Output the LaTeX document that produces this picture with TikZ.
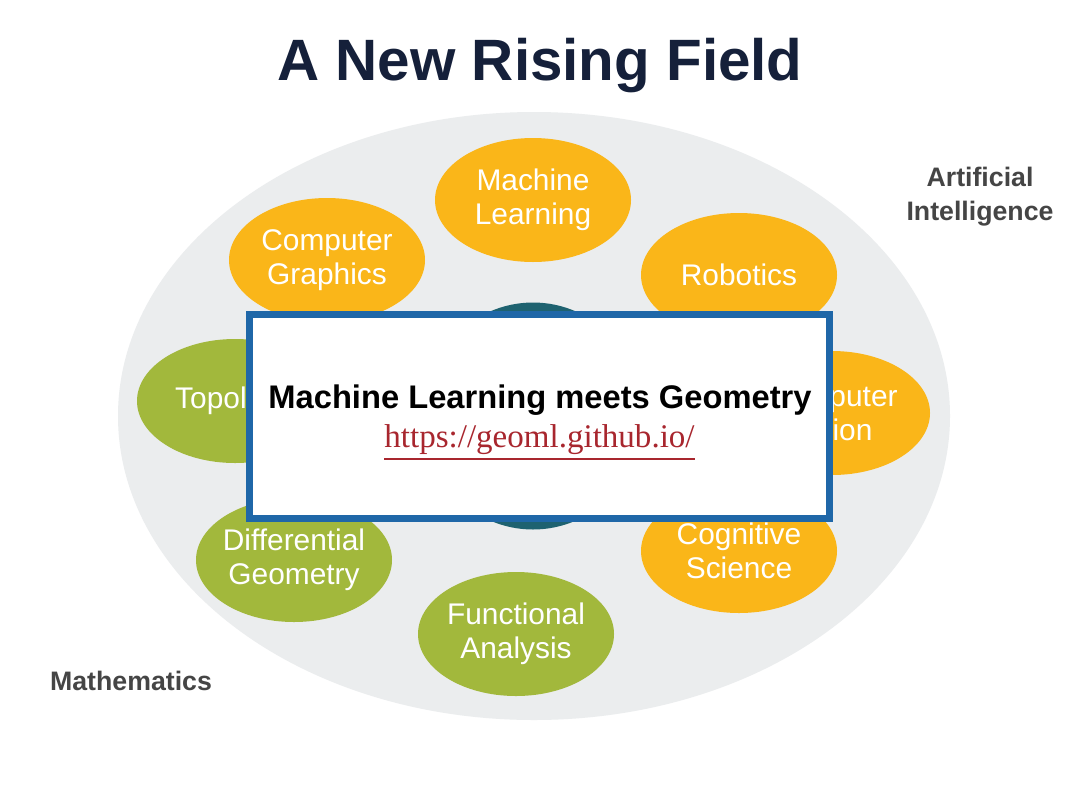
\documentclass[tikz,border=0pt]{standalone}
\usepackage{fontspec}
\setmainfont{Liberation Sans}
\newfontfamily\linkfont{Liberation Serif}
\usetikzlibrary{shapes.geometric}

\definecolor{bubbleorange}{HTML}{FAB619}
\definecolor{bubblegreen}{HTML}{A2B83C}
\definecolor{coreteal}{HTML}{1E6270}
\definecolor{fieldgray}{HTML}{EBEDEE}
\definecolor{boxblue}{HTML}{1F67A8}
\definecolor{titlenavy}{HTML}{15203A}
\definecolor{linkred}{HTML}{A8262E}
\definecolor{labelgray}{HTML}{454545}

\begin{document}
\begin{tikzpicture}[
    bubble/.style={ellipse, inner sep=-10pt, minimum width=1.96cm, minimum height=1.24cm,
        text=white, align=center, font=\fontsize{8.5}{9.7}\selectfont},
    aibubble/.style={bubble, fill=bubbleorange},
    mathbubble/.style={bubble, fill=bubblegreen},
    fieldlabel/.style={text=labelgray, align=center, font=\fontsize{7.6}{9.7}\selectfont\bfseries}]
    \useasboundingbox[fill=white] (0,0) rectangle (10.8,8.1);
    \node[anchor=base, text=titlenavy, font=\fontsize{16.6}{18}\selectfont\bfseries] (title) at (5.40,7.30) {A New Rising Field};
    \fill[fieldgray] (5.34,3.94) ellipse (4.16 and 3.04);
    % artificial intelligence
    \node[aibubble] (ml) at (5.33,6.10) {Machine\\Learning};
    \node[aibubble] (cg) at (3.27,5.50) {Computer\\Graphics};
    \node[aibubble] (rob) at (7.39,5.35) {Robotics};
    \node[aibubble] (cv) at (8.32,3.97) {Computer\\Vision};
    \node[aibubble] (cs) at (7.39,2.59) {Cognitive\\Science};
    % mathematics
    \node[mathbubble] (topo) at (2.35,4.09) {Topology};
    \node[mathbubble] (dg) at (2.94,2.50) {Differential\\Geometry};
    \node[mathbubble] (fa) at (5.16,1.76) {Functional\\Analysis};
    \node[ellipse, fill=coreteal, minimum width=2.2cm, minimum height=2.27cm] (core) at (5.33,3.94) {};
    \node[fieldlabel] (ai) at (9.80,6.13) {Artificial\\Intelligence};
    \node[fieldlabel, anchor=base] (maths) at (1.31,1.20) {Mathematics};
    % overlay box
    \node[draw=boxblue, line width=2pt, fill=white, minimum width=5.80cm, minimum height=2.04cm] (box) at (5.395,3.935) {};
    \node[anchor=base, font=\fontsize{9.3}{11}\selectfont\bfseries] (meets) at (5.40,4.02) {Machine Learning meets Geometry};
    \node[anchor=base, text=linkred, font=\fontsize{9.4}{11}\selectfont\linkfont] (link) at (5.395,3.63) {\underline{https://geoml.github.io/}};
\end{tikzpicture}
\end{document}
